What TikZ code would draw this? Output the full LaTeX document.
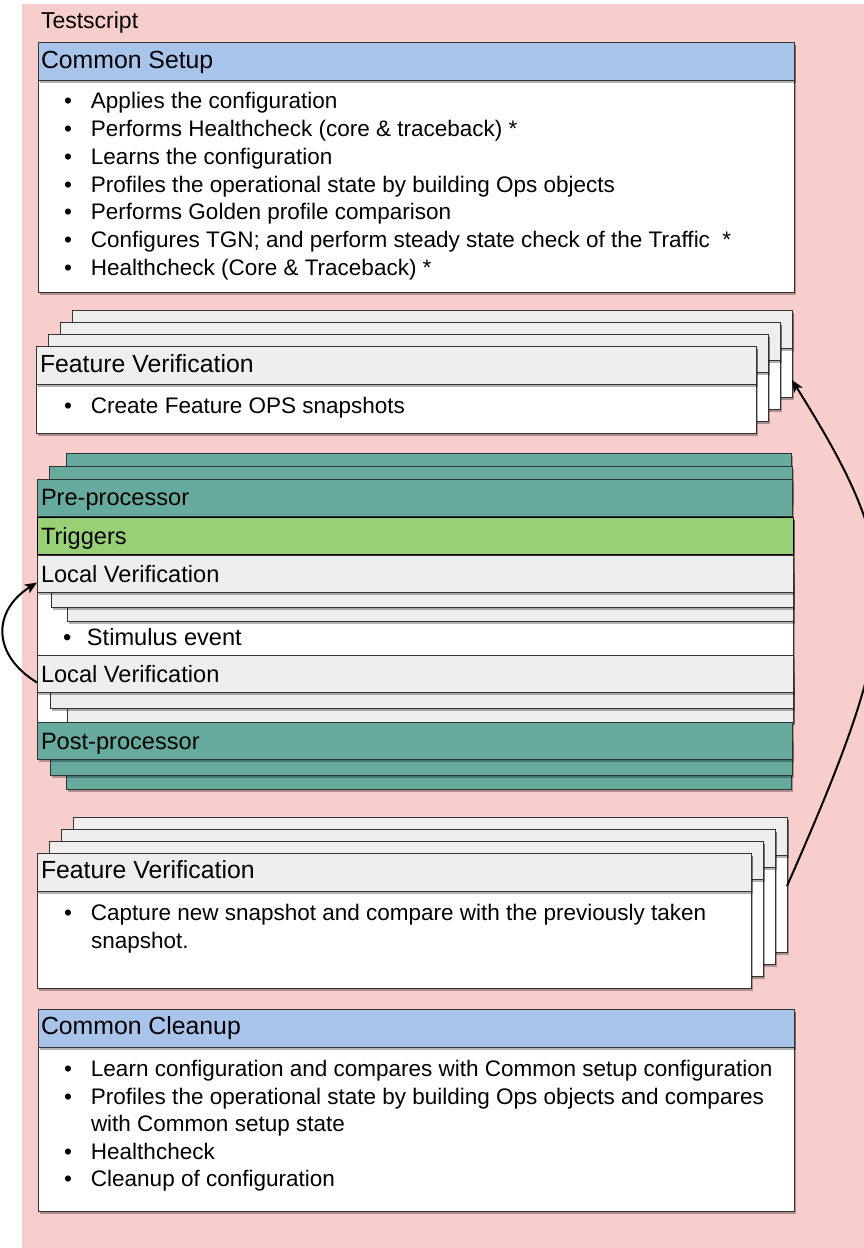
\documentclass[tikz,border=0pt]{standalone}
\usepackage{fontspec}
\setmainfont{Liberation Sans}
\usetikzlibrary{shadows,arrows.meta}
\definecolor{pinkbg}{HTML}{F8CECC}
\definecolor{bluehd}{HTML}{A9C4EB}
\definecolor{greyhd}{HTML}{EEEEEE}
\definecolor{tealc}{HTML}{67AB9F}
\definecolor{greenc}{HTML}{97D077}
\definecolor{lnc}{HTML}{333333}
\newcommand\bodyf{\fontsize{22.5}{27}\selectfont}
\newcommand\hdrf{\fontsize{24.8}{30}\selectfont}
\newcommand\midf{\fontsize{23.6}{28}\selectfont}
\newcommand\titf{\fontsize{23}{28}\selectfont}
\newcommand\mybox[6]{\node[#2,anchor=north west,minimum width=#5pt,minimum height=#6pt,inner sep=0pt,outer sep=0pt] (#1) at (#3,#4) {};}
\newcommand\bul[1]{\makebox[27pt][l]{•}#1}
\newcommand\bulm[1]{\makebox[24pt][l]{•}#1}
\begin{document}
\begin{tikzpicture}[x=1pt,y=-1pt,
  shd/.style={drop shadow={shadow xshift=2pt,shadow yshift=-2.5pt,fill=black,opacity=0.3}},
  frame/.style={draw=lnc,line width=1pt,shd},
  bodybox/.style={frame,fill=white},
  greybox/.style={frame,fill=greyhd},
  bluebox/.style={frame,fill=bluehd},
  tealbox/.style={frame,fill=tealc},
  trigbox/.style={frame,draw=black,fill=greenc},
  txt/.style={anchor=base west,inner sep=0pt,outer sep=0pt,text=black},
  arr/.style={-{Stealth[length=12pt,width=10pt,inset=3pt]},line width=2pt,black},
]
\useasboundingbox (0,0) rectangle (864,1248);
\fill[white] (0,0) rectangle (864,1248);
\fill[pinkbg] (22,4) rectangle (880,1260);

% Common Setup
\mybox{cs}{bodybox}{38}{42}{756}{250}
\mybox{csh}{bluebox}{38}{42}{756}{38}

% Feature Verification (top stack)
\mybox{fvtA}{bodybox}{72}{310}{720}{87}
\mybox{fvtAh}{greybox}{72}{310}{720}{38}
\mybox{fvtB}{bodybox}{60}{322}{720}{87}
\mybox{fvtBh}{greybox}{60}{322}{720}{38}
\mybox{fvtC}{bodybox}{48}{334}{720}{87}
\mybox{fvtCh}{greybox}{48}{334}{720}{38}
\mybox{fvt}{bodybox}{36}{346}{720}{87}
\mybox{fvth}{greybox}{36}{346}{720}{38}

% Middle block
\mybox{preA}{tealbox}{66}{453}{725}{37}
\mybox{preB}{tealbox}{49}{466}{743}{37}
\mybox{cont}{bodybox}{37}{517}{756}{205}
\mybox{pre}{tealbox}{37}{479}{755}{37}
\mybox{trig}{trigbox}{37}{517}{756}{37}
\mybox{lvaC}{greybox}{67}{584}{726}{37}
\mybox{lvaB}{greybox}{51}{570}{742}{37}
\mybox{lva}{greybox}{37}{555}{756}{37}
\mybox{lvbC}{greybox}{67}{685}{726}{37}
\mybox{lvbB}{greybox}{50}{671}{743}{37}
\mybox{lvb}{greybox}{37}{655}{756}{37}
\mybox{postC}{tealbox}{66}{752}{725}{37}
\mybox{postB}{tealbox}{50}{738}{742}{37}
\mybox{post}{tealbox}{37}{722}{755}{37}

% Feature Verification (bottom stack)
\mybox{fvbA}{bodybox}{73}{817}{714}{135}
\mybox{fvbAh}{greybox}{73}{817}{714}{38}
\mybox{fvbB}{bodybox}{61}{829}{714}{135}
\mybox{fvbBh}{greybox}{61}{829}{714}{38}
\mybox{fvbC}{bodybox}{49}{841}{714}{135}
\mybox{fvbCh}{greybox}{49}{841}{714}{38}
\mybox{fvb}{bodybox}{37}{853}{714}{135}
\mybox{fvbh}{greybox}{37}{853}{714}{38}

% Common Cleanup
\mybox{cc}{bodybox}{38}{1009}{756}{202}
\mybox{cch}{bluebox}{38}{1009}{756}{38}

% Texts
\node[txt,font=\titf] (title) at (41,28) {Testscript};
\node[txt,font=\hdrf] (cst) at (41,68) {Common Setup};
\node[txt,font=\bodyf] (cs1) at (64,108) {\bul{Applies the configuration}};
\node[txt,font=\bodyf] (cs2) at (64,136) {\bul{Performs Healthcheck (core \& traceback) *}};
\node[txt,font=\bodyf] (cs3) at (64,164) {\bul{Learns the configuration}};
\node[txt,font=\bodyf] (cs4) at (64,192) {\bul{Profiles the operational state by building Ops objects}};
\node[txt,font=\bodyf] (cs5) at (64,219) {\bul{Performs Golden profile comparison}};
\node[txt,font=\bodyf] (cs6) at (64,247) {\bul{Configures TGN; and perform steady state check of the Traffic\ \ *}};
\node[txt,font=\bodyf] (cs7) at (64,275) {\bul{Healthcheck (Core \& Traceback) *}};

\node[txt,font=\hdrf] (fvtt) at (40,372) {Feature Verification};
\node[txt,font=\bodyf] (fvt1) at (64,413) {\bul{Create Feature OPS snapshots}};

\node[txt,font=\midf] (pret) at (41,505) {Pre-processor};
\node[txt,font=\midf] (trigt) at (41,544) {Triggers};
\node[txt,font=\midf] (lvat) at (41,582) {Local Verification};
\node[txt,font=\midf] (stim) at (63,645) {\bulm{Stimulus event}};
\node[txt,font=\midf] (lvbt) at (41,682) {Local Verification};
\node[txt,font=\midf] (postt) at (41,749) {Post-processor};

\node[txt,font=\hdrf] (fvbt) at (41,878) {Feature Verification};
\node[txt,font=\bodyf] (fvb1) at (64,920) {\bul{Capture new snapshot and compare with the previously taken}};
\node[txt,font=\bodyf] (fvb2) at (91,948) {snapshot.};

\node[txt,font=\hdrf] (cct) at (41,1034) {Common Cleanup};
\node[txt,font=\bodyf] (cc1) at (64,1076) {\bul{Learn configuration and compares with Common setup configuration}};
\node[txt,font=\bodyf] (cc2) at (64,1104) {\bul{Profiles the operational state by building Ops objects and compares}};
\node[txt,font=\bodyf] (cc3) at (91,1131) {with Common setup state};
\node[txt,font=\bodyf] (cc4) at (64,1159) {\bul{Healthcheck}};
\node[txt,font=\bodyf] (cc5) at (64,1186) {\bul{Cleanup of configuration}};

% Connectors
\draw[arr] ([yshift=-1.5pt]fvbA.east) .. controls (907,614) and (907,564) .. ([yshift=-26.5pt]fvtA.east);
\draw[arr] ([yshift=-9pt]lvb.west) .. controls (-8,655) and (-8,611) .. ([yshift=-9pt]lva.west);
\end{tikzpicture}
\end{document}
